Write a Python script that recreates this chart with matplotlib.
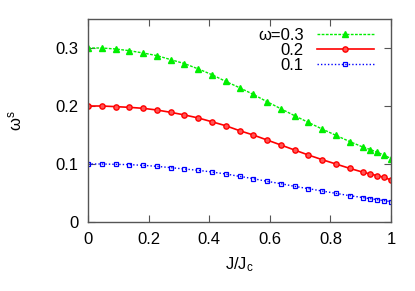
import numpy as np
import matplotlib
matplotlib.use("Agg")
import matplotlib.pyplot as plt

plt.rcParams['font.family'] = ['Liberation Sans', 'DejaVu Sans']
plt.rcParams['mathtext.fontset'] = 'custom'
plt.rcParams['mathtext.rm'] = 'Liberation Sans'
plt.rcParams['mathtext.it'] = 'Liberation Sans'

# J/Jc sample points
j_ratio = [k / 22 for k in range(21)] + [20.5 / 22, 21 / 22, 21.5 / 22, 1.0]

omega_03 = [0.3, 0.3, 0.2983, 0.2954, 0.2914, 0.2869, 0.28, 0.2731, 0.264,
            0.254, 0.2424, 0.2316, 0.22, 0.2074, 0.1953, 0.1833, 0.1717,
            0.1603, 0.1494, 0.1387, 0.1288, 0.125, 0.1201, 0.1155, 0.1092]
omega_02 = [0.2, 0.2, 0.1989, 0.1977, 0.196, 0.1931, 0.1891, 0.1846, 0.1794,
            0.1728, 0.166, 0.1575, 0.15, 0.1414, 0.1328, 0.1241, 0.1155,
            0.1075, 0.1, 0.0925, 0.0856, 0.0828, 0.0799, 0.077, 0.0724]
omega_01 = [0.1, 0.1, 0.0994, 0.0989, 0.0977, 0.096, 0.0937, 0.0914, 0.0891,
            0.0862, 0.0828, 0.0787, 0.0747, 0.0701, 0.0661, 0.0615, 0.0575,
            0.0534, 0.0494, 0.0454, 0.042, 0.0402, 0.0385, 0.0368, 0.0351]

labels = ['ω=0.3', '0.2', '0.1']
xticks = [0, 0.2, 0.4, 0.6, 0.8, 1]
xticklabels = ['0', '0.2', '0.4', '0.6', '0.8', '1']
yticks = [0, 0.1, 0.2, 0.3]
yticklabels = ['0', '0.1', '0.2', '0.3']

fig = plt.figure(figsize=(4.15, 2.91), dpi=100)
ax = fig.add_axes([88 / 415, 1 - 222 / 291, (391 - 88) / 415, (222 - 19) / 291])

ax.plot(j_ratio, omega_03, color='#00ee00', linestyle=(0, (2, 1)), linewidth=1,
        marker='^', markersize=3.8, label=labels[0])
ax.plot(j_ratio, omega_02, color='#ff0000', linestyle='-', linewidth=1.2,
        marker='o', markersize=3.8, markerfacecolor='#ff5555', label=labels[1])
ax.plot(j_ratio, omega_01, color='#0000ff', linestyle=(0, (1, 1.5)), linewidth=1,
        marker='s', markersize=3.5, markerfacecolor='none', markeredgewidth=0.9,
        label=labels[2])

ax.set_xlim(0, 1)
ax.set_ylim(0, 0.35)
ax.set_xticks(xticks)
ax.set_xticklabels(xticklabels)
ax.set_yticks(yticks)
ax.set_yticklabels(yticklabels)
ax.tick_params(direction='in', top=True, right=True, length=5, width=0.8,
               labelsize=12, pad=7, color='#555555')
for s in ax.spines.values():
    s.set_color('#555555')
    s.set_linewidth(1)

ax.set_xlabel('J/J$_\\mathregular{c}$', fontsize=12, labelpad=6)
ax.set_ylabel('ω$^\\mathregular{s}$', fontsize=12, labelpad=22)

leg = ax.legend(loc='upper right', markerfirst=False, frameon=False,
                fontsize=12, handlelength=3.4, handletextpad=0.8,
                labelspacing=0.0, borderaxespad=0.0,
                bbox_to_anchor=(0.965, 0.99))
for col in leg._legend_handle_box.get_children():
    col.align = 'right'

fig.savefig('out.png', dpi=100)
